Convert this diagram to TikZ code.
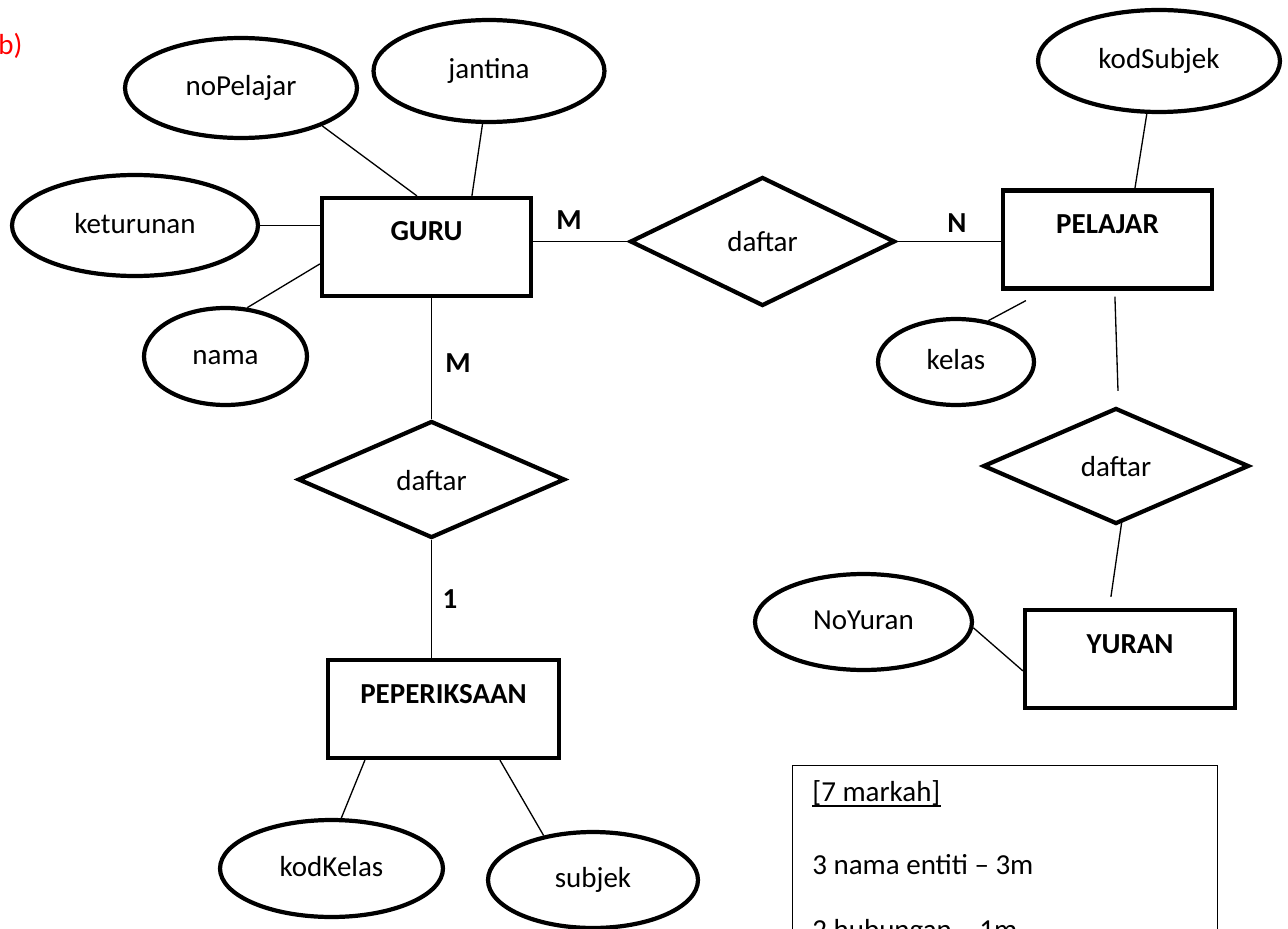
\documentclass[tikz,border=0pt]{standalone}
\usepackage{fontspec}
\setmainfont{Carlito}
\usetikzlibrary{shapes.geometric,calc}
\newcommand{\erfont}{\fontsize{16.5}{20}\selectfont}
\tikzset{
    entity/.style={draw, rectangle, line width=2.4pt, inner sep=0pt,
        text height=0.86cm, text depth=1.1cm, font=\erfont\bfseries},
    attr/.style={draw, ellipse, line width=2.4pt, inner sep=0pt,
        text height=0.44cm, text depth=0.13cm},
    rel/.style={draw, diamond, line width=2.4pt, inner sep=0pt,
        text height=0.52cm, text depth=0.1cm},
    link/.style={line width=0.75pt},
    card/.style={anchor=base, inner sep=0pt, font=\erfont\bfseries},
    note/.style={anchor=base west, inner sep=0pt}
}
\begin{document}
\begin{tikzpicture}[x=0.02cm, y=-0.02cm, font=\erfont]
    \useasboundingbox (0,0) rectangle (1288,929);
    \clip (0,0) rectangle (1288,929);
    %% entities
    \node[entity, minimum width=4.18cm] (GURU) at (426.5,247) {GURU};
    \node[entity, minimum width=4.18cm] (PELAJAR) at (1107.5,239.5) {PELAJAR};
    \node[entity, minimum width=4.62cm] (PEPERIKSAAN) at (443.5,709) {PEPERIKSAAN};
    \node[entity, minimum width=4.2cm] (YURAN) at (1130,659) {YURAN};
    %% relations
    \node[rel, minimum width=5.3cm, minimum height=2.58cm] (dGP) at (762.5,241.5) {daftar};
    \node[rel, minimum width=5.34cm, minimum height=2.34cm] (dGE) at (431.5,479.5) {daftar};
    \node[rel, minimum width=5.32cm, minimum height=2.32cm] (dPY) at (1116,466) {daftar};
    %% attributes
    \node[attr, minimum width=4.64cm, minimum height=2cm] (noPelajar) at (241,88) {noPelajar};
    \node[attr, minimum width=4.62cm, minimum height=2.04cm] (jantina) at (489,71) {jantina};
    \node[attr, minimum width=4.92cm, minimum height=2.02cm] (keturunan) at (135,225.5) {keturunan};
    \node[attr, minimum width=3.26cm, minimum height=1.94cm] (nama) at (225.5,356.5) {nama};
    \node[attr, minimum width=4.84cm, minimum height=2.04cm] (kodSubjek) at (1159,61) {kodSubjek};
    \node[attr, minimum width=3.12cm, minimum height=1.72cm] (kelas) at (956,362) {kelas};
    \node[attr, minimum width=4.34cm, minimum height=1.92cm] (NoYuran) at (863.5,622) {NoYuran};
    \node[attr, minimum width=4.46cm, minimum height=1.94cm] (kodKelas) at (331.5,868.5) {kodKelas};
    \node[attr, minimum width=4.2cm, minimum height=1.92cm] (subjek) at (593,880) {subjek};
    %% lines
    \draw[link] (noPelajar.-25) -- ($(GURU.north west)+(97,0)$);
    \draw[link] (jantina.-97) -- ($(GURU.north west)+(152,0)$);
    \draw[link] (keturunan.east) -- (keturunan.east -| GURU.west);
    \draw[link] (nama.66) -- ($(GURU.north west)+(0,68)$);
    \draw[link] (GURU.east |- dGP.west) -- (dGP.west);
    \draw[link] (dGP.east) -- (dGP.east -| PELAJAR.west);
    \draw[link] (kodSubjek.-103) -- ($(PELAJAR.north west)+(134,0)$);
    \draw[link] (kelas.52) -- ($(PELAJAR.south west)+(25,10)$);
    \draw[link] ($(PELAJAR.south west)+(114,6)$) -- ($(dPY.north)+(2,-15)$);
    \draw[link] ($(dPY.south)+(6,-6)$) -- ($(YURAN.north west)+(88,-11)$);
    \draw[link] (NoYuran.-3) -- ($(YURAN.north west)+(0,63)$);
    \draw[link] (GURU.south -| dGE.north) -- (dGE.north);
    \draw[link] (dGE.south) -- (dGE.south |- PEPERIKSAAN.north);
    \draw[link] ($(PEPERIKSAAN.south west)+(39,0)$) -- (kodKelas.79);
    \draw[link] ($(PEPERIKSAAN.south west)+(174,0)$) -- (subjek.138);
    %% cardinality
    \node[card] (mGP) at (569,230) {M};
    \node[card] (nGP) at (957,233) {N};
    \node[card] (mGE) at (458,372) {M};
    \node[card] (oGE) at (450,608) {1};
    %% labels
    \node[note, text=red] (part) at (-2,55) {b)};
    \node[draw, link, anchor=north west, minimum width=8.5cm, minimum height=4cm] (markah) at (792,765) {};
    \node[note] (mk1) at (812,801) {[7 markah]};
    \draw[line width=1.1pt] ([yshift=-0.6pt]mk1.south west) -- ([yshift=-0.6pt]mk1.south east);
    \node[note] (mk2) at (812,874) {3 nama entiti – 3m};
    \node[note] (mk3) at (812,939) {2 hubungan – 1m};
\end{tikzpicture}
\end{document}
